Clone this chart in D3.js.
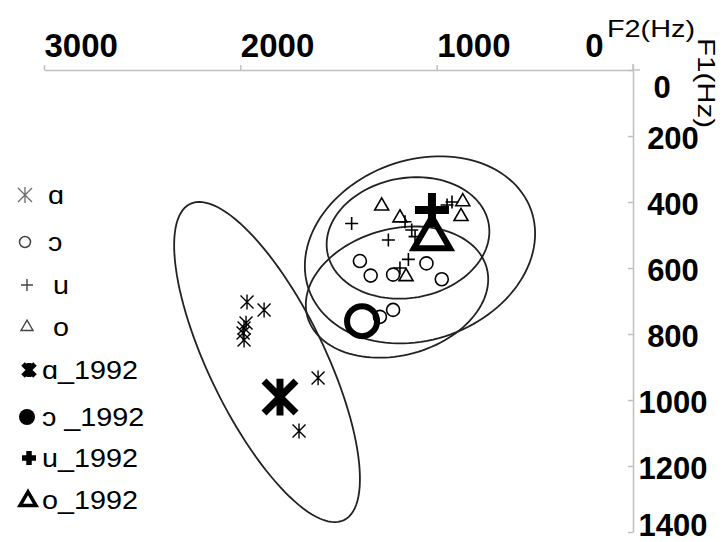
<!DOCTYPE html>
<html>
<head>
<meta charset="utf-8">
<script src="https://cdn.jsdelivr.net/npm/d3@7"></script>
<style>
  body { margin: 0; background: #fff; }
  svg { display: block; font-family: "Liberation Sans", Arial, sans-serif; }
</style>
</head>
<body>
<svg id="chart"></svg>
<script>
// measured vowels, F2 / F1 in Hz
const a_F2 = [1966, 1879, 1971, 1981, 1986, 1981, 1604, 1701];
const a_F1 = [703, 727, 767, 782, 797, 818, 933, 1094];
const o_open_F2 = [1391, 1336, 1222, 1052, 974, 1222, 1289];
const o_open_F1 = [579, 623, 620, 586, 634, 727, 748];
const u_F2 = [1433, 1246, 1161, 1127, 1110, 1144, 1187, 947, 922];
const u_F1 = [465, 515, 460, 485, 505, 574, 600, 409, 400];
const o_F2 = [1280, 1187, 867, 876, 1156];
const o_F1 = [412, 448, 399, 444, 626];

// 1992 reference values
const ref_F2 = [1798, 1380, 1024, 1024];
const ref_F1 = [991, 761, 424, 509];

// dispersion ellipses: centre and two semi-axis vectors (Hz)
const ellCF2 = [1864, 1085, 1146, 1202];
const ellCF1 = [885, 545, 509, 673];
const ellU = [[-392, 479], [-565, -122], [-411, -43], [-457, -73]];
const ellV = [[265, 77], [-157, 256], [-53, 179], [-83, 185]];

const f2Ticks = [3000, 2000, 1000, 0];
const f1Ticks = [0, 200, 400, 600, 800, 1000, 1200, 1400];
const legendLabels = ["ɑ", "ɔ", "u", "o", "ɑ_1992", "ɔ _1992", "u_1992", "o_1992"];

const width = 723, height = 542;
const svg = d3.select("#chart").attr("width", width).attr("height", height);

const x = d3.scaleLinear().domain([3000, 0]).range([44, 633]);
const y = d3.scaleLinear().domain([0, 1400]).range([70, 532]);

const axisColor = "#c0c0c0";

// top axis
const gx = svg.append("g").attr("transform", "translate(0," + y(0) + ")")
    .call(d3.axisTop(x).tickValues(f2Ticks).tickSizeInner(5).tickSizeOuter(0).tickFormat(d3.format("d")));
gx.select(".domain").attr("stroke", axisColor).attr("stroke-width", 1.5);
gx.selectAll(".tick line").attr("stroke", axisColor).attr("stroke-width", 1.5);
gx.selectAll(".tick text")
    .attr("font-size", 33).attr("font-weight", "bold").attr("fill", "#000").attr("font-family", null)
    .attr("y", -13).attr("dy", null)
    .attr("text-anchor", d => d === 0 ? "end" : "start")
    .attr("x", d => d === 0 ? -30 : 0);

// right axis (ticks pointing left, labels to the right)
const gy = svg.append("g").attr("transform", "translate(" + x(0) + ",0)")
    .call(d3.axisRight(y).tickValues(f1Ticks).tickSizeInner(-5).tickSizeOuter(0).tickFormat(d3.format("d")));
gy.select(".domain").attr("stroke", axisColor).attr("stroke-width", 1.5);
gy.selectAll(".tick line").attr("stroke", axisColor).attr("stroke-width", 1.5);
gy.selectAll(".tick text")
    .attr("font-size", 31).attr("font-weight", "bold").attr("fill", "#000").attr("font-family", null)
    .attr("text-anchor", "middle")
    .attr("x", d => d === 0 ? 29 : 40)
    .attr("dy", d => d === 0 ? "0.9em" : (d === 1400 ? "0.12em" : "0.4em"));

// little overshoot where the two axes meet
svg.append("line").attr("x1", x(0)).attr("x2", x(0) + 7).attr("y1", y(0)).attr("y2", y(0))
    .attr("stroke", axisColor).attr("stroke-width", 1.5);
svg.append("line").attr("x1", x(0)).attr("x2", x(0)).attr("y1", y(0)).attr("y2", y(0) - 6)
    .attr("stroke", axisColor).attr("stroke-width", 1.5);

// axis titles
svg.append("text").attr("x", 607).attr("y", 37).attr("font-size", 24)
    .attr("textLength", 88).attr("lengthAdjust", "spacingAndGlyphs").text("F2(Hz)");
svg.append("text").attr("transform", "translate(698,38) rotate(90)").attr("font-size", 24)
    .attr("textLength", 90).attr("lengthAdjust", "spacingAndGlyphs").text("F1(Hz)");

// ellipses
const ts = d3.range(0, 361, 3).map(d => d * Math.PI / 180);
const ellLine = d3.line().curve(d3.curveLinearClosed);
const gE = svg.append("g");
ellCF2.forEach((c2, i) => {
    const pts = ts.map(t => [
        x(c2 + ellU[i][0] * Math.cos(t) + ellV[i][0] * Math.sin(t)),
        y(ellCF1[i] + ellU[i][1] * Math.cos(t) + ellV[i][1] * Math.sin(t))
    ]);
    gE.append("path").attr("d", ellLine(pts)).attr("fill", "none")
        .attr("stroke", "#222").attr("stroke-width", 1.8);
});

// marker shapes
function asterisk(s) {
    return "M" + (-s) + "," + (-s) + "L" + s + "," + s + "M" + (-s) + "," + s + "L" + s + "," + (-s) +
        "M0," + (-s * 1.15) + "L0," + (s * 1.15);
}
function plus(s) {
    return "M" + (-s) + ",0L" + s + ",0M0," + (-s) + "L0," + s;
}
function triangle(s) {
    const h = s * Math.sqrt(3);
    return "M0," + (-h * 2 / 3) + "L" + s + "," + (h / 3) + "L" + (-s) + "," + (h / 3) + "Z";
}

function drawSeries(F2, F1, d, sw, g) {
    g.selectAll(null).data(F2.map((v, i) => [v, F1[i]])).enter().append("path")
        .attr("transform", p => "translate(" + x(p[0]) + "," + y(p[1]) + ")")
        .attr("d", d).attr("fill", "none").attr("stroke", "#000").attr("stroke-width", sw);
}

const gM = svg.append("g");
drawSeries(a_F2, a_F1, asterisk(6.5), 1.4, gM);
drawSeries(u_F2, u_F1, plus(6.5), 1.6, gM);
drawSeries(o_F2, o_F1, triangle(7), 1.6, gM);
gM.selectAll(null).data(o_open_F2.map((v, i) => [v, o_open_F1[i]])).enter().append("circle")
    .attr("cx", p => x(p[0])).attr("cy", p => y(p[1])).attr("r", 6.5)
    .attr("fill", "none").attr("stroke", "#000").attr("stroke-width", 1.6);

// 1992 markers
const gR = svg.append("g");
gR.append("path").attr("transform", "translate(" + x(ref_F2[0]) + "," + y(ref_F1[0]) + ")")
    .attr("d", asterisk(16)).attr("fill", "none").attr("stroke", "#000").attr("stroke-width", 7);
gR.append("circle").attr("cx", x(ref_F2[1])).attr("cy", y(ref_F1[1])).attr("r", 15)
    .attr("fill", "none").attr("stroke", "#000").attr("stroke-width", 6);
gR.append("path").attr("transform", "translate(" + x(ref_F2[2]) + "," + y(ref_F1[2]) + ")")
    .attr("d", plus(17)).attr("fill", "none").attr("stroke", "#000").attr("stroke-width", 8);
gR.append("path").attr("transform", "translate(" + x(ref_F2[3]) + "," + y(ref_F1[3]) + ")")
    .attr("d", triangle(18)).attr("fill", "none").attr("stroke", "#000").attr("stroke-width", 6)
    .attr("stroke-linejoin", "miter");

// legend
const legY = [195, 242, 285, 327, 370, 417, 458, 500];
const legTX = [48, 48, 53, 53, 42, 42, 42, 42];
const gL = svg.append("g");
const grey = "#6a6a6a";
gL.append("path").attr("transform", "translate(25," + legY[0] + ")").attr("d", asterisk(7))
    .attr("fill", "none").attr("stroke", grey).attr("stroke-width", 1.3);
gL.append("circle").attr("cx", 25).attr("cy", legY[1]).attr("r", 5.5)
    .attr("fill", "none").attr("stroke", "#444").attr("stroke-width", 1.5);
gL.append("path").attr("transform", "translate(27," + legY[2] + ")").attr("d", plus(6))
    .attr("fill", "none").attr("stroke", "#444").attr("stroke-width", 1.4);
gL.append("path").attr("transform", "translate(27," + legY[3] + ")").attr("d", triangle(6))
    .attr("fill", "none").attr("stroke", "#444").attr("stroke-width", 1.4);
gL.append("path").attr("transform", "translate(29," + legY[4] + ")").attr("d", asterisk(6))
    .attr("fill", "none").attr("stroke", "#000").attr("stroke-width", 5);
gL.append("circle").attr("cx", 27).attr("cy", legY[5]).attr("r", 8).attr("fill", "#000");
gL.append("path").attr("transform", "translate(29," + legY[6] + ")").attr("d", plus(7))
    .attr("fill", "none").attr("stroke", "#000").attr("stroke-width", 5.5);
gL.append("path").attr("transform", "translate(28," + (legY[7] + 1) + ")").attr("d", triangle(8))
    .attr("fill", "none").attr("stroke", "#000").attr("stroke-width", 3.5);

gL.selectAll(null).data(legendLabels).enter().append("text")
    .attr("transform", (d, i) => "translate(" + legTX[i] + "," + legY[i] + ") scale(1.15,1)")
    .attr("dy", "0.35em")
    .attr("font-size", 25).attr("fill", "#000").text(d => d);
</script>
</body>
</html>
